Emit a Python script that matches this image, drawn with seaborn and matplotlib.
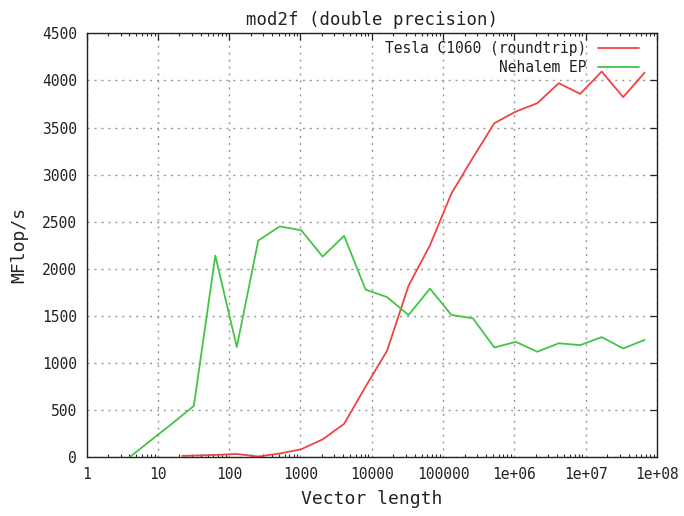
import numpy as np
import pandas as pd
import matplotlib
matplotlib.use("Agg")
import matplotlib.pyplot as plt
import seaborn as sns
from matplotlib.ticker import LogLocator, FixedLocator, FixedFormatter, NullFormatter

# Measured throughput of the mod2f kernel (double precision)
tesla_len = [22, 32, 64, 128, 256, 512, 1024, 2048, 4096, 8192, 16384, 32768,
             65536, 131072, 262144, 524288, 1048576, 2097152, 4194304,
             8388608, 16777216, 33554432, 67108864]
tesla_mflops = [15, 18, 25, 35, 8, 40, 85, 190, 355, 750, 1130, 1820,
                2250, 2800, 3180, 3546, 3669, 3758, 3970,
                3857, 4094, 3822, 4083]

nehalem_len = [4, 8, 16, 32, 64, 128, 256, 512, 1024, 2048, 4096, 8192, 16384,
               32768, 65536, 131072, 262144, 524288, 1048576, 2097152,
               4194304, 8388608, 16777216, 33554432, 67108864]
nehalem_mflops = [0, 180, 360, 545, 2140, 1170, 2300, 2450, 2410, 2130, 2350,
                  1780, 1700, 1510, 1790, 1510, 1475, 1165, 1225, 1120,
                  1210, 1190, 1275, 1155, 1245]

x_ticks = [1, 10, 100, 1000, 10000, 100000, 1e6, 1e7, 1e8]
x_tick_labels = ["1", "10", "100", "1000", "10000", "100000",
                 "1e+06", "1e+07", "1e+08"]
y_ticks = [0, 500, 1000, 1500, 2000, 2500, 3000, 3500, 4000, 4500]

sns.set_theme(style="white")
plt.rcParams["font.family"] = ["DejaVu Sans Mono", "DejaVu Sans"]

fig = plt.figure(figsize=(6.84, 5.16), dpi=100)
ax = fig.add_axes([0.1265, 0.1138, 0.8340, 0.8217])

tesla = pd.DataFrame({"len": tesla_len, "mflops": tesla_mflops})
nehalem = pd.DataFrame({"len": nehalem_len, "mflops": nehalem_mflops})

sns.lineplot(data=tesla, x="len", y="mflops", ax=ax, color="#f04444",
             linewidth=1.3, label="Tesla C1060 (roundtrip)")
sns.lineplot(data=nehalem, x="len", y="mflops", ax=ax, color="#44c444",
             linewidth=1.3, label="Nehalem EP")

ax.set_xscale("log")
ax.set_xlim(1, 1e8)
ax.set_ylim(0, 4500)

ax.xaxis.set_major_locator(FixedLocator(x_ticks))
ax.xaxis.set_major_formatter(FixedFormatter(x_tick_labels))
ax.xaxis.set_minor_locator(LogLocator(base=10, subs=np.arange(2, 10), numticks=50))
ax.xaxis.set_minor_formatter(NullFormatter())
ax.yaxis.set_major_locator(FixedLocator(y_ticks))
ax.set_yticklabels([str(v) for v in y_ticks])

ax.tick_params(axis="both", which="major", direction="in", length=5, width=0.9,
               top=True, right=True, labelsize=10.5, colors="#222222",
               pad=7, labelcolor="#222222")
ax.tick_params(axis="x", which="minor", direction="in", length=2.5, width=0.8,
               top=True, bottom=True)

ax.grid(True, which="major", linestyle=(0, (1.5, 3.5)), color="#999999",
        linewidth=1.0)

for s in ax.spines.values():
    s.set_color("#222222")
    s.set_linewidth(1.0)

ax.set_title("mod2f (double precision)", fontsize=12.5, color="#222222", pad=6)
ax.set_xlabel("Vector length", fontsize=13, color="#222222", labelpad=6)
ax.set_ylabel("MFlop/s", fontsize=13, color="#222222", labelpad=10)

leg = ax.legend(loc="upper right", bbox_to_anchor=(0.982, 1.0), frameon=False,
                markerfirst=False, fontsize=10.5, handlelength=2.8,
                borderaxespad=0.15, labelspacing=0.25, handletextpad=0.8)
for t in leg.get_texts():
    t.set_ha("right")
    t.set_color("#222222")
leg._legend_box.align = "right"

fig.savefig("out.png", dpi=100, facecolor="white")
